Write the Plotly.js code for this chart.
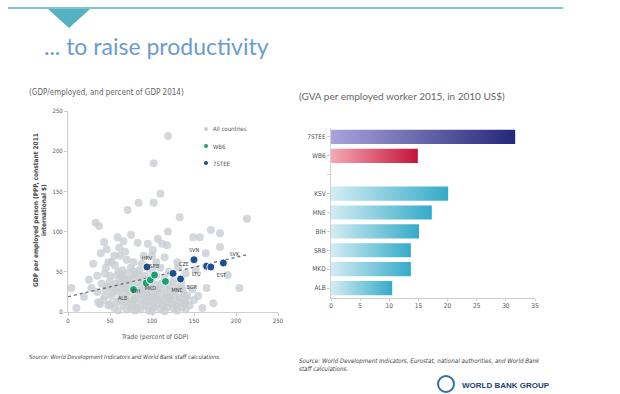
<!DOCTYPE html>
<html><head><meta charset="utf-8">
<script src="https://cdn.plot.ly/plotly-3.0.1.min.js"></script>
<style>html,body{margin:0;padding:0;background:#fff}#chart{width:620px;height:394px}</style>
</head><body><div id="chart"></div>
<script>
// ---- Data: scatter (Trade % of GDP vs GDP per employed person, 2014) ----
const allX = [119,102,110,84,102,71,133,213,33,37,
  119,170,181,157,43,59,75,107,149,118,
  39,61,83,101,164,181,55,68,90,115,48,70,105,130,30,
  131,152,190,45,60,75,85,110,120,35,50,65,80,100,140,25,
  204,4,19,36,173,150,10,
  40,45,50,52,55,58,60,62,65,66,68,70,72,74,75,78,80,82,84,85,86,88,90,92,94,95,96,98,100,102,
  104,105,107,108,110,112,114,116,118,120,122,124,126,128,130,132,135,138,140,145,148,155,160,165,
  48,42,35,28,55,63,78,92,115,125,135,88,100,112,56,70,80,100,115,60,130,140,90,70,44,
  50,53,57,61,64,67,69,71,73,76,77,79,81,83,87,89,91,93,97,99,101,103,106,109,111,113,117,119,121,123,
  127,129,133,136,139,142,44,38,47,58,65,85,95,105,52,62,78,95,46,66];
const allY = [219,185,147,136,136,127,118,116,111,107,
  100,102,98,93,87,93,96,91,93,83,
  73,80,86,77,73,81,70,75,70,68,62,65,62,62,60,
  56,52,46,55,50,55,52,55,50,45,45,42,47,52,48,40,
  30,30,19,12,11,15,5,
  35,28,38,20,30,12,25,36,18,8,30,22,40,14,4,33,20,10,26,38,3,16,28,8,20,32,2,14,24,6,
  34,18,10,28,3,22,14,30,6,18,26,10,4,20,30,12,6,22,14,8,28,20,5,30,
  8,15,25,30,5,44,50,45,42,38,35,60,70,85,58,3,2,1,1,2,2,3,40,48,48,
  10,25,35,15,28,40,12,33,26,9,42,16,30,5,22,35,12,27,18,30,10,20,26,15,35,8,20,12,33,16,
  26,8,18,28,10,20,20,10,32,45,52,45,55,45,62,70,62,85,78,88];
const wb6Names = ['ALB','BIH','MKD','SRB','MNE'];
const wb6X = [78,93,98,103,116];
const wb6Y = [28,36,40,46,38];
const steeNames = ['HRV','CZE','BGR','SVN','LTU','EST','SVK'];
const steeX = [94,125,134,150,165,170,185];
const steeY = [56,48,41,65,57,56,61];
const trendX = [0,212];
const trendY = [19,71];
const scatterTicks = [0,50,100,150,200,250];

// ---- Data: bars (GVA per employed worker 2015, 2010 US$ thousands) ----
const barCats = ['7STEE','WB6',' ','KSV','MNE','BIH','SRB','MKD','ALB'];
const barVals = [31.6,14.9,null,20.1,17.3,15.1,13.7,13.7,10.5];
const barTicks = [0,5,10,15,20,25,30,35];

// ---- helpers (pixel -> paper) ----
const W=620,H=394;
const px = x => x/W, py = y => 1 - y/H;
const narrow = 'Liberation Sans Narrow, DejaVu Sans Condensed, Arial Narrow, sans-serif';
const gridGrey = '#cfcfcf';

const barColors = barCats.map(c => c==='7STEE' ? 'rgb(80,76,170)' : (c==='WB6' ? 'rgb(220,70,95)' : 'rgb(120,200,222)'));
const ghost = {size:8, color:'rgba(0,0,0,0)'};

const data = [
  {type:'scatter', mode:'markers', x:allX, y:allY, xaxis:'x', yaxis:'y',
   marker:{color:'#c9ced3', size:8, opacity:0.8}, cliponaxis:false, hoverinfo:'skip', showlegend:false},
  {type:'scatter', mode:'lines', x:trendX, y:trendY, xaxis:'x', yaxis:'y',
   line:{color:'#6a6f75', width:1.3, dash:'dot'}, showlegend:false, hoverinfo:'skip'},
  {type:'scatter', mode:'markers', x:steeX, y:steeY, xaxis:'x', yaxis:'y',
   marker:{color:'#1d4f8f', size:8, line:{color:'rgba(255,255,255,0.9)', width:1}}, cliponaxis:false, showlegend:false, hoverinfo:'skip'},
  {type:'scatter', mode:'markers', x:wb6X, y:wb6Y, xaxis:'x', yaxis:'y',
   marker:{color:'#1e9f72', size:8, line:{color:'rgba(255,255,255,0.9)', width:1}}, cliponaxis:false, showlegend:false, hoverinfo:'skip'},
  {type:'scatter', mode:'markers+text', x:wb6X, y:wb6Y, text:wb6Names, xaxis:'x', yaxis:'y', marker:ghost,
   textposition:['bottom left','bottom left','bottom center','top center','bottom right'],
   textfont:{family:narrow, size:5.5, color:'#444'}, cliponaxis:false, showlegend:false, hoverinfo:'skip'},
  {type:'scatter', mode:'markers+text', x:steeX, y:steeY, text:steeNames, xaxis:'x', yaxis:'y', marker:ghost,
   textposition:['top center','top right','bottom right','top center','bottom left','bottom right','top right'],
   textfont:{family:narrow, size:5.5, color:'#444'}, cliponaxis:false, showlegend:false, hoverinfo:'skip'},
  {type:'bar', orientation:'h', y:barCats, x:barVals, xaxis:'x2', yaxis:'y2',
   marker:{color:barColors}, showlegend:false, hoverinfo:'skip'}
];

const axFont = {family:narrow, size:6, color:'#555'};
const axFont2 = {family:narrow, size:6.5, color:'#555'};
const layout = {
  width:W, height:H, margin:{l:0,r:0,t:0,b:0},
  paper_bgcolor:'#fff', plot_bgcolor:'rgba(0,0,0,0)',
  bargap:0.25,
  xaxis:{domain:[px(68),px(278)], range:[0,250], tickvals:scatterTicks, showgrid:false, zeroline:false,
    showline:true, linecolor:gridGrey, ticks:'outside', ticklen:3, tickcolor:gridGrey, tickfont:axFont, anchor:'y'},
  yaxis:{domain:[py(312),py(111)], range:[0,250], tickvals:scatterTicks, showgrid:false, zeroline:false,
    showline:true, linecolor:gridGrey, ticks:'outside', ticklen:3, tickcolor:gridGrey, tickfont:axFont, anchor:'x'},
  xaxis2:{domain:[px(331),px(535)], range:[0,35], tickvals:barTicks, showgrid:false, zeroline:false,
    showline:true, linecolor:gridGrey, ticks:'outside', ticklen:2, tickcolor:gridGrey, tickfont:axFont2, anchor:'y2'},
  yaxis2:{domain:[py(297.5),py(127.5)], type:'category', categoryorder:'array', categoryarray:barCats,
    range:[8.5,-0.5], showgrid:false, zeroline:false, showline:true, linecolor:gridGrey,
    ticks:'outside', ticklen:3, tickcolor:gridGrey, tickfont:axFont2, anchor:'x2'},
  shapes:[
    {type:'line', xref:'paper', yref:'paper', x0:px(8), x1:px(563), y0:py(8), y1:py(8), line:{color:'#5eb0bd', width:1.6}},
    {type:'path', xref:'paper', yref:'paper',
     path:`M ${px(48)} ${py(9)} L ${px(90)} ${py(9)} L ${px(69)} ${py(28)} Z`, fillcolor:'#55b2c1', line:{width:0}},
    {type:'circle', xref:'paper', yref:'paper', x0:px(204), x1:px(208), y0:py(127), y1:py(131), fillcolor:'#c9ced3', line:{width:0}},
    {type:'circle', xref:'paper', yref:'paper', x0:px(204), x1:px(208), y0:py(144), y1:py(148), fillcolor:'#1e9f72', line:{width:0}},
    {type:'circle', xref:'paper', yref:'paper', x0:px(204), x1:px(208), y0:py(161), y1:py(165), fillcolor:'#1d4f8f', line:{width:0}},
    {type:'circle', xref:'paper', yref:'paper', x0:px(438), x1:px(454), y0:py(376), y1:py(392), fillcolor:'rgba(0,0,0,0)', line:{color:'#2f6db3', width:2}}
  ],
  annotations:[
    {xref:'paper', yref:'paper', x:px(42), y:py(46), xanchor:'left', yanchor:'middle', showarrow:false,
     text:'... to raise productivity', font:{family:'Lato, Open Sans, sans-serif', size:23, color:'#6b9bcf'}},
    {xref:'paper', yref:'paper', x:px(27), y:py(92), xanchor:'left', yanchor:'middle', showarrow:false,
     text:'(GDP/employed, and percent of GDP 2014)', font:{family:narrow, size:8, color:'#666'}},
    {xref:'paper', yref:'paper', x:px(297), y:py(96), xanchor:'left', yanchor:'middle', showarrow:false,
     text:'(GVA per employed worker 2015, in 2010 US$)', font:{family:'Lato, sans-serif', size:10, color:'#666'}},
    {xref:'paper', yref:'paper', x:px(40), y:py(210), xanchor:'center', yanchor:'middle', showarrow:false, textangle:-90,
     text:'<b>GDP per employed person (PPP, constant 2011<br>international $)</b>', font:{family:narrow, size:6.5, color:'#444'}},
    {xref:'paper', yref:'paper', x:px(155), y:py(337), xanchor:'center', yanchor:'middle', showarrow:false,
     text:'Trade (percent of GDP)', font:{family:narrow, size:6.5, color:'#555'}},
    {xref:'paper', yref:'paper', x:px(211), y:py(129), xanchor:'left', yanchor:'middle', showarrow:false,
     text:'All countries', font:{family:narrow, size:6, color:'#555'}},
    {xref:'paper', yref:'paper', x:px(211), y:py(146), xanchor:'left', yanchor:'middle', showarrow:false,
     text:'WB6', font:{family:narrow, size:6, color:'#555'}},
    {xref:'paper', yref:'paper', x:px(211), y:py(163), xanchor:'left', yanchor:'middle', showarrow:false,
     text:'7STEE', font:{family:narrow, size:6, color:'#555'}},
    {xref:'paper', yref:'paper', x:px(27), y:py(357), xanchor:'left', yanchor:'middle', showarrow:false,
     text:'<i>Source: World Development Indicators and World Bank staff calculations.</i>', font:{family:narrow, size:5.8, color:'#444'}},
    {xref:'paper', yref:'paper', x:px(297), y:py(364), xanchor:'left', yanchor:'middle', showarrow:false, align:'left',
     text:'<i>Source: World Development Indicators, Eurostat, national authorities, and World Bank<br>staff calculations.</i>', font:{family:narrow, size:6.2, color:'#444'}},
    {xref:'paper', yref:'paper', x:px(460), y:py(385), xanchor:'left', yanchor:'middle', showarrow:false,
     text:'<b>WORLD BANK GROUP</b>', font:{family:'Liberation Sans, Arial, sans-serif', size:8, color:'#1f3f70'}}
  ]
};

Plotly.newPlot('chart', data, layout, {staticPlot:true}).then(gd => {
  const ns = 'http://www.w3.org/2000/svg';
  const svg = gd.querySelector('svg.main-svg');
  let defs = svg.querySelector('defs');
  if (!defs) { defs = document.createElementNS(ns,'defs'); svg.insertBefore(defs, svg.firstChild); }
  const grads = {
    'rgb(80, 76, 170)': ['gStee','#aaa3dc','#23287a'],
    'rgb(220, 70, 95)': ['gWb6','#f4aab4','#c4133a'],
    'rgb(120, 200, 222)': ['gCty','#d3ecf3','#34abc9']
  };
  Object.values(grads).forEach(([id,c1,c2]) => {
    const g = document.createElementNS(ns,'linearGradient');
    g.setAttribute('id',id); g.setAttribute('x1','0'); g.setAttribute('x2','1'); g.setAttribute('y1','0'); g.setAttribute('y2','0');
    [[0,c1],[1,c2]].forEach(([o,c]) => { const s=document.createElementNS(ns,'stop'); s.setAttribute('offset',o); s.setAttribute('stop-color',c); g.appendChild(s); });
    defs.appendChild(g);
  });
  gd.querySelectorAll('.barlayer .point path').forEach(p => {
    const f = p.style.fill;
    if (grads[f]) p.style.fill = 'url(#' + grads[f][0] + ')';
  });
});
</script></body></html>
